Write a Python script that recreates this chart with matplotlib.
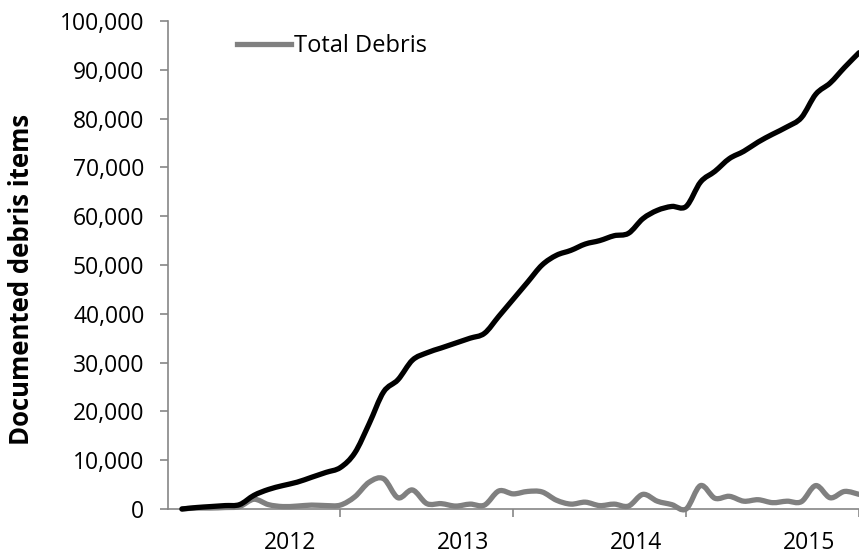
import numpy as np
import matplotlib
matplotlib.use('Agg')
import matplotlib.pyplot as plt
from matplotlib.path import Path
from matplotlib.patches import PathPatch
from matplotlib.lines import Line2D
from matplotlib.ticker import FuncFormatter

# monthly values (month index 0..47)
months = list(range(48))
total_debris = [0, 200, 200, 300, 500, 2000, 900, 500, 600, 800, 700, 800,
                2500, 5500, 6200, 2300, 3900, 1100, 1100, 600, 1000, 800, 3700, 3100,
                3600, 3500, 1800, 1000, 1400, 700, 1000, 600, 3000, 1600, 900, 0,
                4800, 2200, 2600, 1600, 1900, 1300, 1600, 1500, 4800, 2300, 3600, 3000]
cumulative = [0, 300, 500, 700, 900, 2800, 4000, 4800, 5500, 6500, 7500, 8500,
              11500, 17500, 24000, 26500, 30500, 32000, 33000, 34000, 35000, 36000, 39500, 43000,
              46500, 50000, 52000, 53000, 54300, 55000, 56000, 56500, 59500, 61200, 62000, 62000,
              67000, 69200, 71800, 73300, 75200, 76800, 78300, 80200, 85000, 87300, 90500, 93500]
year_labels = ['2012', '2013', '2014', '2015']
year_label_pos = [7.5, 19.5, 31.5, 43.5]
year_ticks = [11, 23, 35, 47]

plt.rcParams['font.family'] = ['Open Sans', 'DejaVu Sans']

W, H = 859, 556
fig = plt.figure(figsize=(W/100, H/100), dpi=100)
ax = fig.add_axes([168/W, 47/H, (W-168)/W, 488/H])


def smooth_path(x, y):
    # excel-like smoothed line drawn as bezier curves
    x = np.asarray(x, float)
    y = np.asarray(y, float)
    verts = [(x[0], y[0])]
    codes = [Path.MOVETO]
    n = len(x)
    for i in range(n - 1):
        p0 = (x[max(i-1, 0)], y[max(i-1, 0)])
        p1 = (x[i], y[i])
        p2 = (x[i+1], y[i+1])
        p3 = (x[min(i+2, n-1)], y[min(i+2, n-1)])
        c1 = (p1[0] + (p2[0]-p0[0])/6, p1[1] + (p2[1]-p0[1])/6)
        c2 = (p2[0] - (p3[0]-p1[0])/6, p2[1] - (p3[1]-p1[1])/6)
        verts += [c1, c2, p2]
        codes += [Path.CURVE4] * 3
    return Path(verts, codes)


gray = '#808080'
ax.add_patch(PathPatch(smooth_path(months, total_debris), fc='none', ec=gray,
                       lw=3.8, capstyle='round', joinstyle='round', clip_on=False, zorder=3))
ax.add_patch(PathPatch(smooth_path(months, cumulative), fc='none', ec='black',
                       lw=3.8, capstyle='round', joinstyle='round', clip_on=False, zorder=4))

ax.set_xlim(-0.966, 46.69)
ax.set_ylim(0, 100000)

for s in ['top', 'right']:
    ax.spines[s].set_visible(False)
for s in ['left', 'bottom']:
    ax.spines[s].set_color('#868686')
    ax.spines[s].set_linewidth(1.2)

ax.set_yticks(np.arange(0, 100001, 10000))
ax.yaxis.set_major_formatter(FuncFormatter(lambda v, p: f'{int(v):,}'))
ax.tick_params(axis='y', direction='out', length=6, width=1.2, color='#868686',
               labelsize=16.5, pad=11)

ax.set_xticks(year_ticks)
ax.set_xticklabels([])
ax.tick_params(axis='x', which='major', direction='out', length=6, width=1.2, color='#868686')
ax.set_xticks(year_label_pos, minor=True)
ax.set_xticklabels(year_labels, minor=True)
ax.tick_params(axis='x', which='minor', length=0, labelsize=16.5, pad=16)

fig.text(22/W, 1 - 279/H, 'Documented debris items', rotation=90, ha='center', va='center',
         fontsize=18.5, fontweight='bold')

handle = Line2D([], [], color=gray, lw=3.8)
ax.legend([handle], ['Total Debris'], loc='center left', bbox_to_anchor=(237/W, 1 - 46/H),
          bbox_transform=fig.transFigure, frameon=False, fontsize=17, borderpad=0,
          borderaxespad=0, handlelength=2.3, handletextpad=0.1)

fig.savefig('out.png', dpi=100)
